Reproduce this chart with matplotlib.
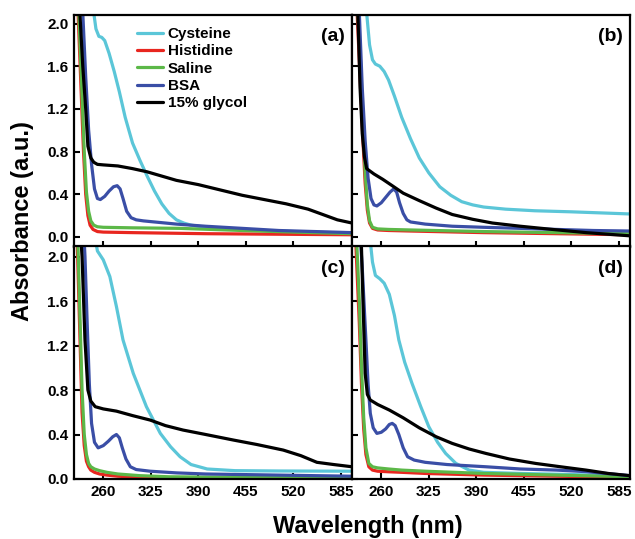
import matplotlib
matplotlib.use("Agg")
import matplotlib.pyplot as plt

plt.rcParams['font.family'] = ['Liberation Sans', 'DejaVu Sans']
plt.rcParams['font.weight'] = 'bold'

series_names = ["Cysteine", "Histidine", "Saline", "BSA", "15% glycol"]
series_colors = ["#5bc6d8", "#e8261f", "#5cb848", "#3a4ea6", "#000000"]
panel_labels = ["(a)", "(b)", "(c)", "(d)"]
x_ticks = [260, 325, 390, 455, 520, 585]
y_ticks = [0.0, 0.4, 0.8, 1.2, 1.6, 2.0]

# ---- panel (a) ----
wl_a_cys = [230, 245, 250, 254, 258, 262, 268, 275, 282, 290, 300, 310, 320, 330, 340, 350, 360, 370, 380, 395, 420, 460, 520, 600]
ab_a_cys = [3.0, 2.2, 1.95, 1.88, 1.87, 1.84, 1.72, 1.55, 1.36, 1.12, 0.88, 0.72, 0.57, 0.43, 0.31, 0.22, 0.16, 0.13, 0.11, 0.095, 0.08, 0.065, 0.05, 0.035]
wl_a_his = [220, 225, 229, 233, 236, 239, 242, 246, 252, 260, 300, 400, 500, 600]
ab_a_his = [3.0, 2.2, 1.5, 0.8, 0.4, 0.2, 0.11, 0.07, 0.05, 0.045, 0.04, 0.03, 0.025, 0.02]
wl_a_sal = [220, 226, 230, 234, 237, 240, 243, 247, 252, 260, 300, 365, 450, 520, 600]
ab_a_sal = [3.0, 2.2, 1.5, 0.8, 0.42, 0.24, 0.15, 0.11, 0.095, 0.09, 0.085, 0.08, 0.06, 0.045, 0.03]
wl_a_bsa = [225, 232, 236, 240, 244, 248, 252, 256, 262, 268, 274, 279, 283, 287, 292, 298, 305, 315, 330, 360, 400, 450, 500, 550, 600]
ab_a_bsa = [3.0, 2.1, 1.5, 1.0, 0.68, 0.45, 0.36, 0.35, 0.38, 0.43, 0.47, 0.48, 0.45, 0.36, 0.24, 0.18, 0.16, 0.15, 0.14, 0.12, 0.10, 0.08, 0.06, 0.05, 0.04]
wl_a_gly = [222, 228, 232, 236, 239, 243, 247, 252, 260, 280, 300, 320, 340, 360, 390, 420, 450, 480, 510, 540, 560, 580, 600]
ab_a_gly = [3.0, 2.1, 1.6, 1.2, 0.85, 0.74, 0.70, 0.68, 0.675, 0.665, 0.64, 0.61, 0.57, 0.53, 0.49, 0.44, 0.39, 0.35, 0.31, 0.26, 0.21, 0.16, 0.13]

# ---- panel (b) ----
wl_b_cys = [236, 240, 244, 248, 252, 258, 264, 270, 278, 288, 300, 312, 325, 340, 355, 370, 385, 400, 430, 470, 520, 560, 600]
ab_b_cys = [3.0, 2.1, 1.8, 1.66, 1.62, 1.60, 1.55, 1.47, 1.32, 1.12, 0.92, 0.74, 0.60, 0.47, 0.39, 0.33, 0.30, 0.28, 0.26, 0.245, 0.235, 0.225, 0.215]
wl_b_his = [220, 227, 231, 235, 238, 241, 244, 248, 255, 270, 300, 400, 500, 600]
ab_b_his = [3.0, 2.1, 1.5, 0.9, 0.5, 0.25, 0.13, 0.08, 0.065, 0.06, 0.055, 0.04, 0.03, 0.02]
wl_b_sal = [220, 228, 232, 235, 238, 241, 244, 248, 255, 270, 300, 400, 500, 600]
ab_b_sal = [3.0, 2.1, 1.6, 1.1, 0.6, 0.3, 0.15, 0.09, 0.075, 0.07, 0.065, 0.05, 0.04, 0.03]
wl_b_bsa = [224, 230, 234, 238, 242, 246, 250, 254, 260, 266, 272, 277, 281, 285, 290, 295, 300, 320, 357, 400, 450, 500, 550, 600]
ab_b_bsa = [3.0, 2.1, 1.4, 0.9, 0.55, 0.36, 0.30, 0.29, 0.32, 0.37, 0.42, 0.45, 0.42, 0.32, 0.22, 0.16, 0.14, 0.12, 0.10, 0.09, 0.08, 0.07, 0.06, 0.055]
wl_b_gly = [222, 228, 231, 234, 237, 240, 250, 262, 275, 290, 312, 335, 357, 385, 412, 450, 494, 540, 600]
ab_b_gly = [3.0, 2.1, 1.4, 0.97, 0.75, 0.64, 0.59, 0.54, 0.48, 0.41, 0.34, 0.27, 0.21, 0.165, 0.13, 0.10, 0.07, 0.04, 0.01]

# ---- panel (c) ----
wl_c_cys = [240, 248, 252, 260, 269, 278, 287, 301, 319, 338, 352, 365, 380, 402, 440, 500, 600]
ab_c_cys = [3.0, 2.2, 2.05, 1.97, 1.82, 1.55, 1.25, 0.95, 0.65, 0.41, 0.29, 0.2, 0.13, 0.09, 0.075, 0.072, 0.07]
wl_c_his = [220, 225, 228, 231, 234, 237, 240, 243, 248, 255, 265, 280, 310, 350, 450, 600]
ab_c_his = [3.0, 2.0, 1.3, 0.6, 0.3, 0.16, 0.11, 0.08, 0.06, 0.045, 0.035, 0.025, 0.015, 0.01, 0.005, 0.0]
wl_c_sal = [220, 225, 228, 231, 234, 237, 240, 243, 248, 255, 265, 280, 310, 350, 450, 600]
ab_c_sal = [3.0, 2.2, 1.5, 0.8, 0.4, 0.22, 0.14, 0.11, 0.09, 0.075, 0.06, 0.045, 0.03, 0.02, 0.015, 0.01]
wl_c_bsa = [226, 232, 235, 238, 241, 244, 248, 253, 260, 267, 273, 278, 282, 286, 291, 297, 305, 324, 360, 400, 450, 500, 550, 600]
ab_c_bsa = [3.0, 2.4, 2.0, 1.4, 0.85, 0.5, 0.33, 0.28, 0.30, 0.34, 0.38, 0.40, 0.37, 0.28, 0.18, 0.11, 0.085, 0.07, 0.055, 0.045, 0.04, 0.035, 0.03, 0.025]
wl_c_gly = [222, 228, 231, 235, 239, 243, 249, 260, 278, 300, 324, 345, 369, 400, 438, 470, 506, 530, 552, 575, 600]
ab_c_gly = [3.0, 2.3, 2.0, 1.25, 0.80, 0.70, 0.65, 0.63, 0.61, 0.57, 0.53, 0.48, 0.44, 0.40, 0.35, 0.31, 0.26, 0.21, 0.15, 0.13, 0.11]

# ---- panel (d) ----
wl_d_cys = [238, 244, 248, 252, 258, 264, 271, 278, 284, 292, 302, 314, 325, 337, 348, 362, 380, 400, 450, 520, 600]
ab_d_cys = [3.0, 2.2, 1.95, 1.83, 1.80, 1.76, 1.66, 1.47, 1.25, 1.05, 0.86, 0.65, 0.47, 0.33, 0.23, 0.14, 0.08, 0.06, 0.05, 0.04, 0.025]
wl_d_his = [220, 226, 230, 233, 236, 239, 243, 248, 255, 270, 288, 320, 400, 500, 600]
ab_d_his = [3.0, 2.0, 1.4, 0.85, 0.45, 0.22, 0.11, 0.08, 0.07, 0.065, 0.06, 0.05, 0.035, 0.025, 0.015]
wl_d_sal = [220, 226, 230, 233, 236, 239, 243, 248, 255, 270, 288, 320, 400, 500, 600]
ab_d_sal = [3.0, 2.2, 1.6, 1.0, 0.55, 0.28, 0.14, 0.11, 0.10, 0.09, 0.08, 0.07, 0.05, 0.035, 0.02]
wl_d_bsa = [224, 230, 234, 239, 242, 245, 249, 254, 260, 266, 271, 275, 279, 284, 290, 296, 305, 320, 350, 403, 450, 500, 540, 600]
ab_d_bsa = [3.0, 2.3, 1.9, 1.25, 0.85, 0.59, 0.46, 0.41, 0.42, 0.45, 0.49, 0.50, 0.48, 0.40, 0.28, 0.20, 0.17, 0.15, 0.13, 0.11, 0.09, 0.08, 0.066, 0.03]
wl_d_gly = [226, 232, 235, 238, 241, 245, 255, 271, 290, 312, 335, 357, 380, 403, 435, 471, 505, 540, 570, 600]
ab_d_gly = [3.0, 2.3, 1.6, 0.95, 0.76, 0.71, 0.67, 0.62, 0.55, 0.46, 0.38, 0.32, 0.27, 0.23, 0.18, 0.14, 0.11, 0.08, 0.05, 0.03]

panels = [
    [(wl_a_cys, ab_a_cys), (wl_a_his, ab_a_his), (wl_a_sal, ab_a_sal), (wl_a_bsa, ab_a_bsa), (wl_a_gly, ab_a_gly)],
    [(wl_b_cys, ab_b_cys), (wl_b_his, ab_b_his), (wl_b_sal, ab_b_sal), (wl_b_bsa, ab_b_bsa), (wl_b_gly, ab_b_gly)],
    [(wl_c_cys, ab_c_cys), (wl_c_his, ab_c_his), (wl_c_sal, ab_c_sal), (wl_c_bsa, ab_c_bsa), (wl_c_gly, ab_c_gly)],
    [(wl_d_cys, ab_d_cys), (wl_d_his, ab_d_his), (wl_d_sal, ab_d_sal), (wl_d_bsa, ab_d_bsa), (wl_d_gly, ab_d_gly)],
]

W, H = 635, 539
fig = plt.figure(figsize=(W / 100, H / 100), dpi=100)

def rect(x0, y0, x1, y1):
    return [x0 / W, 1 - y1 / H, (x1 - x0) / W, (y1 - y0) / H]

rects = [rect(74, 15, 352, 246.5), rect(352, 15, 630, 246.5),
         rect(74, 246.5, 352, 479), rect(352, 246.5, 630, 479)]
ylims = [(-0.09, 2.08), (-0.09, 2.08), (0.0, 2.09), (0.0, 2.09)]

axes = []
for i, r in enumerate(rects):
    ax = fig.add_axes(r)
    axes.append(ax)
    for j, (wl, ab) in enumerate(panels[i]):
        ax.plot(wl, ab, color=series_colors[j], lw=2.3, label=series_names[j],
                solid_capstyle='round', solid_joinstyle='round')
    ax.set_xlim(220, 600)
    ax.set_ylim(*ylims[i])
    ax.set_xticks(x_ticks)
    ax.set_yticks(y_ticks)
    ax.tick_params(direction='in', length=4, width=1.5, labelsize=11, pad=4)
    for s in ax.spines.values():
        s.set_linewidth(1.6)
    if i < 2:
        ax.tick_params(labelbottom=False)
    if i % 2 == 1:
        ax.tick_params(labelleft=False)
    ax.set_xticklabels([str(t) for t in x_ticks], fontweight='bold')
    ax.set_yticklabels([f"{t:.1f}" for t in y_ticks], fontweight='bold')
    ax.text(0.975, 0.905, panel_labels[i], transform=ax.transAxes, ha='right', va='center',
            fontsize=14, fontweight='bold')

leg = axes[0].legend(loc='upper left', bbox_to_anchor=(0.227, 0.948), frameon=False,
                     borderpad=0, borderaxespad=0, handlelength=1.7, handletextpad=0.3,
                     labelspacing=0.22, prop={'size': 11, 'weight': 'bold'})

fig.text(23 / W, 1 - 221 / H, "Absorbance (a.u.)", rotation=90, ha='center', va='center',
         fontsize=17, fontweight='bold')
fig.text(368 / W, 1 - 527 / H, "Wavelength (nm)", ha='center', va='center',
         fontsize=17, fontweight='bold')

fig.savefig("out.png", dpi=100)
